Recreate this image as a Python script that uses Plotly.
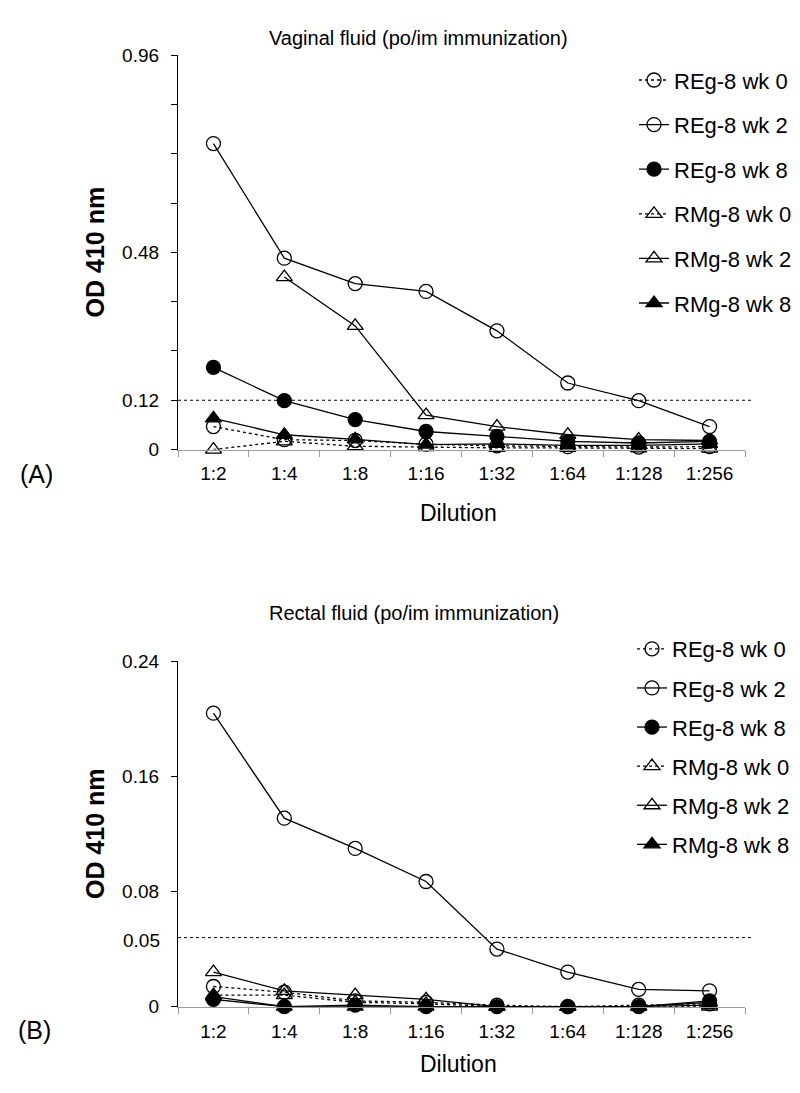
import plotly.graph_objects as go

DILUTIONS = ["1:2", "1:4", "1:8", "1:16", "1:32", "1:64", "1:128", "1:256"]
SERIES = ["REg-8 wk 0", "REg-8 wk 2", "REg-8 wk 8", "RMg-8 wk 0", "RMg-8 wk 2", "RMg-8 wk 8"]

# (A) vaginal fluid, OD 410 nm
reg_wk0_a = [0.056, 0.024, 0.022, 0.013, 0.009, 0.007, 0.006, 0.007]
reg_wk2_a = [0.745, 0.466, 0.404, 0.385, 0.289, 0.162, 0.119, 0.056]
reg_wk8_a = [0.200, 0.119, 0.073, 0.044, 0.032, 0.020, 0.016, 0.020]
rmg_wk0_a = [0.000, 0.020, 0.008, 0.006, 0.004, 0.004, 0.003, 0.002]
rmg_wk2_a = [None, 0.420, 0.301, 0.084, 0.056, 0.036, 0.024, 0.022]
rmg_wk8_a = [0.076, 0.036, 0.025, 0.012, 0.014, 0.010, 0.010, 0.014]

# (B) rectal fluid, OD 410 nm
reg_wk0_b = [0.014, 0.010, 0.004, 0.003, 0.001, 0.000, 0.001, 0.002]
reg_wk2_b = [0.204, 0.131, 0.110, 0.087, 0.040, 0.024, 0.012, 0.011]
reg_wk8_b = [0.005, 0.000, 0.001, 0.000, 0.000, 0.000, 0.000, 0.004]
rmg_wk0_b = [0.008, 0.008, 0.003, 0.002, 0.000, 0.000, 0.000, 0.000]
rmg_wk2_b = [0.024, 0.011, 0.008, 0.005, 0.000, 0.000, 0.000, 0.001]
rmg_wk8_b = [0.007, 0.000, 0.000, 0.000, 0.000, 0.000, 0.000, 0.003]

# cutoff lines
cutoff_a = 0.12
cutoff_b = 0.048
cutoff_b_label = "0.05"

yticks_a = [0, 0.12, 0.24, 0.36, 0.48, 0.60, 0.72, 0.84, 0.96]
yticktext_a = ["0", "0.12", "", "", "0.48", "", "", "", "0.96"]
yticks_b = [0, 0.08, 0.16, 0.24]
yticktext_b = ["0", "0.08", "0.16", "0.24"]

FONT = "Liberation Sans, Arial, sans-serif"
styles = [
    ("circle-open", "dot"),
    ("circle-open", "solid"),
    ("circle", "solid"),
    ("triangle-up-open", "dot"),
    ("triangle-up-open", "solid"),
    ("triangle-up", "solid"),
]

fig = go.Figure()

def add_panel(values, xa, ya, leg, tag):
    for name, y, (sym, dash) in zip(SERIES, values, styles):
        fig.add_trace(go.Scatter(
            x=DILUTIONS, y=y, name=name, mode="lines+markers",
            xaxis=xa, yaxis=ya, legend=leg, legendgroup=tag + name,
            line=dict(color="black", width=1.3, dash=dash),
            marker=dict(symbol=sym, size=14, color="black",
                        line=dict(color="black", width=1.3)),
            cliponaxis=False, connectgaps=False))

add_panel([reg_wk0_a, reg_wk2_a, reg_wk8_a, rmg_wk0_a, rmg_wk2_a, rmg_wk8_a], "x", "y", "legend", "a")
add_panel([reg_wk0_b, reg_wk2_b, reg_wk8_b, rmg_wk0_b, rmg_wk2_b, rmg_wk8_b], "x2", "y2", "legend2", "b")

XDOM = [170 / 800, 737 / 800]
H = 1093.0

def xax(anchor):
    return dict(domain=XDOM, anchor=anchor, type="category", range=[-0.5, 7.5],
                showline=True, linecolor="#9a9a9a", linewidth=1.3,
                ticks="outside", tickson="boundaries", ticklen=6, tickcolor="#9a9a9a",
                showgrid=False, zeroline=False, tickfont=dict(size=19), ticklabelstandoff=7)

def yax(anchor, dom, rng, tv, tt):
    return dict(domain=dom, anchor=anchor, range=rng, showline=True, linecolor="black",
                linewidth=1.3, ticks="outside", ticklen=6, tickcolor="black",
                tickvals=tv, ticktext=tt, showgrid=False, zeroline=False,
                tickfont=dict(size=19), ticklabelstandoff=8)

fig.update_layout(
    width=800, height=1093, margin=dict(l=0, r=0, t=0, b=0),
    paper_bgcolor="white", plot_bgcolor="white",
    font=dict(family=FONT, color="black"),
    xaxis=xax("y"),
    yaxis=yax("x", [1 - 440 / H, 1 - 38 / H], [0, 0.96], yticks_a, yticktext_a),
    xaxis2=xax("y2"),
    yaxis2=yax("x2", [1 - 1008 / H, 1 - 656 / H], [0, 0.24], yticks_b, yticktext_b),
    legend=dict(x=626 / 800, y=1 - 42 / H, xanchor="left", yanchor="top",
                bgcolor="rgba(0,0,0,0)", font=dict(size=22), tracegroupgap=13),
    legend2=dict(x=624 / 800, y=1 - 622 / H, xanchor="left", yanchor="top",
                 bgcolor="rgba(0,0,0,0)", font=dict(size=22), tracegroupgap=7.5),
)

fig.add_shape(type="line", xref="paper", yref="y", x0=XDOM[0], x1=745 / 800,
              y0=cutoff_a, y1=cutoff_a, line=dict(color="black", width=1, dash="dot"))
fig.add_shape(type="line", xref="paper", yref="y2", x0=XDOM[0], x1=743 / 800,
              y0=cutoff_b, y1=cutoff_b, line=dict(color="black", width=1, dash="dot"))
fig.add_annotation(text=cutoff_b_label, xref="paper", yref="y2", x=XDOM[0], y=cutoff_b,
                   xanchor="right", xshift=-16, yshift=-3, showarrow=False, font=dict(size=19))

texts = [
    ("Vaginal fluid (po/im immunization)", 259, 20, 20, "left", 0, False),
    ("Rectal fluid (po/im immunization)", 259, 607, 20, "left", 0, False),
    ("Dilution", 450, 505, 23, "center", 0, False),
    ("Dilution", 450, 1067, 23, "center", 0, False),
    ("(A)", 29, 465, 25, "center", 0, False),
    ("(B)", 26, 1032, 25, "center", 0, False),
    ("OD 410 nm", 87, 239, 25, "center", -90, True),
    ("OD 410 nm", 87, 832, 25, "center", -90, True),
]
for t, x, y, size, anchor, ang, bold in texts:
    fig.add_annotation(text="<b>%s</b>" % t if bold else t, xref="paper", yref="paper",
                       x=x / 800, y=1 - y / H, xanchor=anchor, yanchor="middle",
                       textangle=ang, showarrow=False, font=dict(size=size))

fig.write_html("out.html")
